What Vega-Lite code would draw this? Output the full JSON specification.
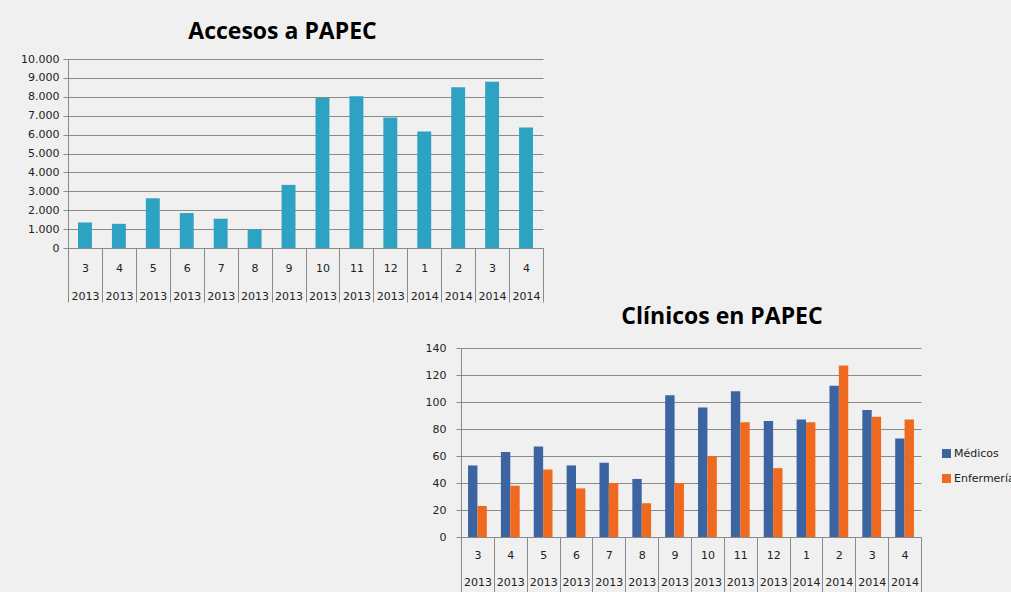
{
  "$schema": "https://vega.github.io/schema/vega-lite/v6.json",
  "background": "#f0f0f0",
  "padding": {"left": 20, "top": 21, "right": 0, "bottom": 0},
  "spacing": 3,
  "config": {
    "view": {"stroke": null},
    "font": "DejaVu Sans",
    "title": {"font": "Open Sans", "fontWeight": "bold", "fontSize": 23, "color": "#000000"},
    "axis": {"labelFont": "DejaVu Sans", "labelFontSize": 11, "labelColor": "#222222", "domainColor": "#8a8a8a", "tickColor": "#8a8a8a", "gridColor": "#8a8a8a", "gridOpacity": 1, "title": null}
  },
  "vconcat": [
    {
      "title": {"text": "Accesos a PAPEC", "anchor": "middle", "dx": -23, "offset": 9},
      "width": 475,
      "height": 189,
      "data": {"values": [
        {"etiqueta": "3|2013", "valor": 1350},
        {"etiqueta": "4|2013", "valor": 1280},
        {"etiqueta": "5|2013", "valor": 2630},
        {"etiqueta": "6|2013", "valor": 1850},
        {"etiqueta": "7|2013", "valor": 1550},
        {"etiqueta": "8|2013", "valor": 1000},
        {"etiqueta": "9|2013", "valor": 3340},
        {"etiqueta": "10|2013", "valor": 7940},
        {"etiqueta": "11|2013", "valor": 8030},
        {"etiqueta": "12|2013", "valor": 6910},
        {"etiqueta": "1|2014", "valor": 6160},
        {"etiqueta": "2|2014", "valor": 8510},
        {"etiqueta": "3|2014", "valor": 8790},
        {"etiqueta": "4|2014", "valor": 6380}
      ]},
      "mark": {"type": "bar", "color": "#2ea2c2", "width": {"band": 0.41}},
      "encoding": {
        "x": {"field": "etiqueta", "type": "nominal", "sort": null,
          "scale": {"paddingInner": 0, "paddingOuter": 0},
          "axis": {"labelAngle": 0, "labelExpr": "split(datum.label, '|')", "labelLineHeight": 28, "tickBand": "extent", "tickSize": 54, "labelPadding": -40, "title": null}},
        "y": {"field": "valor", "type": "quantitative",
          "scale": {"domain": [0, 10000], "nice": false},
          "axis": {"values": [0,1000,2000,3000,4000,5000,6000,7000,8000,9000,10000], "labelExpr": "replace(format(datum.value, ','), ',', '.')", "tickSize": 5, "labelPadding": 4, "grid": true, "title": null}}
      }
    },
    {
      "spacing": 20,
      "hconcat": [
        {
          "width": 337,
          "height": 10,
          "data": {"values": []},
          "mark": "point",
          "encoding": {}
        },
        {
          "title": {"text": "Clínicos en PAPEC", "anchor": "middle", "dx": 31, "offset": 13},
          "width": 460,
          "height": 189,
          "data": {"values": [
            {"etiqueta": "3|2013", "serie": "Médicos", "valor": 53},
            {"etiqueta": "3|2013", "serie": "Enfermería", "valor": 23},
            {"etiqueta": "4|2013", "serie": "Médicos", "valor": 63},
            {"etiqueta": "4|2013", "serie": "Enfermería", "valor": 38},
            {"etiqueta": "5|2013", "serie": "Médicos", "valor": 67},
            {"etiqueta": "5|2013", "serie": "Enfermería", "valor": 50},
            {"etiqueta": "6|2013", "serie": "Médicos", "valor": 53},
            {"etiqueta": "6|2013", "serie": "Enfermería", "valor": 36},
            {"etiqueta": "7|2013", "serie": "Médicos", "valor": 55},
            {"etiqueta": "7|2013", "serie": "Enfermería", "valor": 40},
            {"etiqueta": "8|2013", "serie": "Médicos", "valor": 43},
            {"etiqueta": "8|2013", "serie": "Enfermería", "valor": 25},
            {"etiqueta": "9|2013", "serie": "Médicos", "valor": 105},
            {"etiqueta": "9|2013", "serie": "Enfermería", "valor": 40},
            {"etiqueta": "10|2013", "serie": "Médicos", "valor": 96},
            {"etiqueta": "10|2013", "serie": "Enfermería", "valor": 60},
            {"etiqueta": "11|2013", "serie": "Médicos", "valor": 108},
            {"etiqueta": "11|2013", "serie": "Enfermería", "valor": 85},
            {"etiqueta": "12|2013", "serie": "Médicos", "valor": 86},
            {"etiqueta": "12|2013", "serie": "Enfermería", "valor": 51},
            {"etiqueta": "1|2014", "serie": "Médicos", "valor": 87},
            {"etiqueta": "1|2014", "serie": "Enfermería", "valor": 85},
            {"etiqueta": "2|2014", "serie": "Médicos", "valor": 112},
            {"etiqueta": "2|2014", "serie": "Enfermería", "valor": 127},
            {"etiqueta": "3|2014", "serie": "Médicos", "valor": 94},
            {"etiqueta": "3|2014", "serie": "Enfermería", "valor": 89},
            {"etiqueta": "4|2014", "serie": "Médicos", "valor": 73},
            {"etiqueta": "4|2014", "serie": "Enfermería", "valor": 87}
          ]},
          "mark": "bar",
          "encoding": {
            "x": {"field": "etiqueta", "type": "nominal", "sort": null,
              "scale": {"paddingInner": 0, "paddingOuter": 0},
              "axis": {"labelAngle": 0, "labelExpr": "split(datum.label, '|')", "labelLineHeight": 27, "tickBand": "extent", "tickSize": 60, "labelPadding": -48, "title": null}},
            "xOffset": {"field": "serie", "type": "nominal", "sort": ["Médicos", "Enfermería"], "scale": {"paddingInner": 0, "paddingOuter": 0.75}},
            "y": {"field": "valor", "type": "quantitative",
              "scale": {"domain": [0, 140], "nice": false},
              "axis": {"values": [0,20,40,60,80,100,120,140], "tickSize": 5, "labelPadding": 10, "grid": true, "title": null}},
            "color": {"field": "serie", "type": "nominal",
              "scale": {"domain": ["Médicos", "Enfermería"], "range": ["#3c64a1", "#ef6a1f"]},
              "legend": {"title": null, "orient": "none", "legendX": 873, "legendY": 389, "symbolType": "square", "symbolSize": 81, "symbolStrokeWidth": 0, "labelOffset": 2, "labelFont": "DejaVu Sans", "labelFontSize": 11, "labelColor": "#222222", "rowPadding": 13}}
          }
        }
      ]
    }
  ]
}
